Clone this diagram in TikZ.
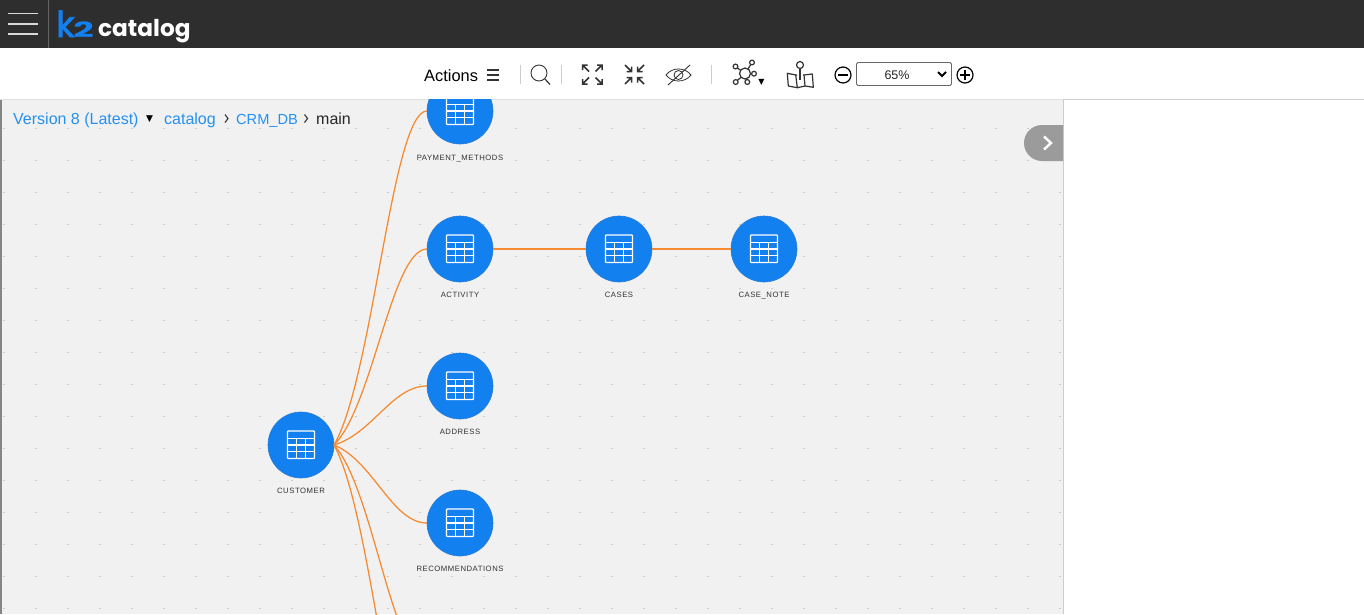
\documentclass[tikz,border=0pt]{standalone}
\usepackage{fontspec}
\setmainfont{Liberation Sans}
\newfontfamily\logofont{Poppins}
\newfontfamily\logokfont[FakeBold=1.6]{Poppins}
\newfontfamily\symfont{DejaVu Sans}
\newfontfamily\labelfont[LetterSpace=7]{Liberation Sans}
\definecolor{hdr}{HTML}{2E2E2E}
\definecolor{canvasbg}{HTML}{F1F1F1}
\definecolor{griddot}{HTML}{CCCCCC}
\definecolor{nodeblue}{HTML}{1380F0}
\definecolor{nodeedge}{HTML}{2B7CD3}
\definecolor{edgeorange}{HTML}{F58A30}
\definecolor{linkblue}{HTML}{2590F0}
\definecolor{tabgrey}{HTML}{9B9B9B}
\definecolor{sepgrey}{HTML}{CCCCCC}
\definecolor{icondark}{HTML}{333333}
\tikzset{
  x=1pt,y=-1pt,
  tablenode/.style={circle,fill=nodeblue,draw=nodeedge,line width=0.6pt,minimum size=66pt,inner sep=0pt,outer sep=0pt},
  tablelabel/.style={font=\labelfont\fontsize{7.7}{8}\selectfont,text=black!80,inner sep=0pt,anchor=base},
  relation/.style={draw=edgeorange,line width=1.25pt},
  crumb/.style={font=\fontsize{16}{18}\selectfont,inner sep=0pt,anchor=base west},
  sep/.style={draw=sepgrey,line width=1pt},
  ico/.style={draw=icondark,line width=1.5pt},
  pics/tableicon/.style={code={
    \draw[white,line width=1.3pt,rounded corners=0.7pt] (-13.5,-14) rectangle (13.5,13.5);
    \draw[white,line width=1.3pt] (-13.5,-6.3) -- (13.5,-6.3) (-13.5,0) -- (13.5,0) (-13.5,6.7) -- (13.5,6.7)
       (-4.5,-6.3) -- (-4.5,13.5) (4.5,-6.3) -- (4.5,13.5);
  }}
}
\begin{document}
\begin{tikzpicture}
\useasboundingbox (0,0) rectangle (1364,614);
\fill[white] (0,0) rectangle (1364,614);
% header
\fill[hdr] (0,0) rectangle (1364,48);
\draw[white!85!black,line width=1.7pt] (8,13.5) -- (38,13.5) (8,24) -- (38,24) (8,34) -- (38,34);
\draw[white!40!black,line width=0.8pt] (48.5,0) -- (48.5,48);
\node[font=\logokfont\fontsize{36}{36}\selectfont,text=nodeblue,inner sep=0pt,anchor=base west] (logok) at (56,37) {k};
\node[font=\logofont\bfseries\fontsize{21}{21}\selectfont,text=nodeblue,inner sep=0pt,anchor=base west,xscale=1.7] (logotwo) at (73,37) {2};
\node[font=\logofont\bfseries\fontsize{23.2}{25}\selectfont,text=white,inner sep=0pt,anchor=base west] (logot) at (98,36) {catalog};
% canvas
\fill[canvasbg] (0,99) rectangle (1063,614);
\fill[black!48] (0,99) rectangle (2,614);
\draw[sepgrey!60,line width=0.8pt] (0,99) -- (1063,99);
\draw[sepgrey,line width=1pt] (1063.5,99) -- (1364,99) (1063.5,99) -- (1063.5,614);
\begin{scope}
\clip (2,99.5) rectangle (1063,614);
\foreach \i in {0,...,33}{\foreach \j in {4,...,19}{
  \fill[griddot] ({3+32*\i},{32*\j-0.5}) rectangle ++(2,1);
}}
\node[tablenode] (payment) at (460,111) {};
\node[tablenode] (activity) at (460,249) {};
\node[tablenode] (cases) at (619,249) {};
\node[tablenode] (casenote) at (764,249) {};
\node[tablenode] (address) at (460,386) {};
\node[tablenode] (recs) at (460,523) {};
\node[tablenode] (customer) at (301,445) {};
\coordinate (below1) at (427,660);
\coordinate (below2) at (427,797);
\foreach \t/\d in {payment.west/-334,activity.west/-196,address.west/-59,recs.west/78,below1/215,below2/352}{
  \draw[relation] (customer.east) .. controls +(39,{\d*0.2}) and +(-35,0) .. (\t);
}
\draw[relation] (activity.east) -- (cases.west);
\draw[relation] (cases.east) -- (casenote.west);
\foreach \t in {payment,activity,cases,casenote,address,recs,customer}{
  \pic at (\t) {tableicon};
}
\node[tablelabel] (lpayment) at (460,160) {PAYMENT\_METHODS};
\node[tablelabel] (lactivity) at (460,297) {ACTIVITY};
\node[tablelabel] (lcases) at (619,297) {CASES};
\node[tablelabel] (lcasenote) at (764,297) {CASE\_NOTE};
\node[tablelabel] (laddress) at (460,434) {ADDRESS};
\node[tablelabel] (lrecs) at (460,571) {RECOMMENDATIONS};
\node[tablelabel] (lcustomer) at (301,493) {CUSTOMER};
\end{scope}
% breadcrumb
\node[crumb,text=linkblue] (ver) at (13,124) {Version 8 (Latest)};
\node[font=\symfont\fontsize{9}{9}\selectfont,inner sep=0pt,text=black] (verdown) at (149.5,119) {▼};
\node[crumb,text=linkblue] (cat) at (164,124) {catalog};
\node[crumb,text=linkblue,font=\fontsize{14.6}{18}\selectfont] (crm) at (236,124) {CRM\_DB};
\node[crumb,text=black!85] (mainl) at (316,124) {main};
\draw[icondark,line width=1.1pt] (225,114.5) -- (228,118.5) -- (225,122.5);
\draw[icondark,line width=1.1pt] (304.5,114.5) -- (307.5,118.5) -- (304.5,122.5);
% tab
\fill[tabgrey] (1063,125) -- (1042,125) arc[start angle=-90,end angle=-270,radius=18,y=-1pt] -- (1063,161) -- cycle;
\draw[white,line width=2.4pt] (1044,136.5) -- (1051,143) -- (1044,149.5);
% toolbar
\node[crumb,text=black,font=\fontsize{16.4}{18}\selectfont] (actions) at (424,81) {Actions};
\draw[icondark,line width=1.1pt] (487,70) -- (499,70) (487,75) -- (499,75) (487,80) -- (499,80);
\draw[sep] (520.5,65) -- (520.5,84) (561.5,65) -- (561.5,84) (711.5,65) -- (711.5,84);
% search
\draw[icondark,line width=0.9pt] (539,73) circle[radius=8];
\draw[icondark,line width=1.2pt] (545,79) -- (550,84.5);
% expand
\begin{scope}[ico]
\draw (582.5,70) -- (582.5,65) -- (587.5,65) (582.5,65) -- (589,71.5);
\draw (602,70) -- (602,65) -- (597,65) (602,65) -- (595.5,71.5);
\draw (582.5,79) -- (582.5,84) -- (587.5,84) (582.5,84) -- (589,77.5);
\draw (602,79) -- (602,84) -- (597,84) (602,84) -- (595.5,77.5);
% compress
\draw (625,65) -- (631.5,71.5) (631.5,66.5) -- (631.5,71.5) -- (626.5,71.5);
\draw (644,65) -- (637.5,71.5) (637.5,66.5) -- (637.5,71.5) -- (642.5,71.5);
\draw (625,84) -- (631.5,77.5) (631.5,82.5) -- (631.5,77.5) -- (626.5,77.5);
\draw (644,84) -- (637.5,77.5) (637.5,82.5) -- (637.5,77.5) -- (642.5,77.5);
\end{scope}
% eye slash
\draw[icondark,line width=0.8pt] (666,75) .. controls (672,67) and (685,67) .. (691,75) .. controls (685,83) and (672,83) .. (666,75);
\draw[icondark,line width=0.8pt] (678.5,75) circle[radius=4.5];
\draw[icondark,line width=0.9pt] (668,85) -- (690,65);
% network
\begin{scope}[icondark,line width=1.2pt]
\draw (745,73.5) circle[radius=5.5];
\draw (735.5,66.5) circle[radius=2.4];
\draw (752,62.5) circle[radius=2.4];
\draw (754,73.7) circle[radius=2.4];
\draw (747.3,82) circle[radius=2.4];
\draw (735.7,82) circle[radius=2.4];
\draw (737.5,68) -- (740.5,70.3) (750.7,64.5) -- (748,69) (751.6,73.7) -- (750.5,73.7) (746.7,79.6) -- (746.2,79) (737.5,80.3) -- (741,77.3);
\end{scope}
\node[font=\symfont\fontsize{8}{8}\selectfont,inner sep=0pt,text=black] (netdown) at (761.5,82) {▼};
% map
\begin{scope}[icondark,line width=1.2pt,line join=round]
\draw (787.3,73.3) -- (795.7,75) -- (797.3,87.7) -- (788.3,86) -- cycle;
\draw (804,75) -- (812.3,74) -- (813.3,87.3) -- (805,86) -- cycle;
\draw (797.3,87.7) -- (805,86) (795.7,75) -- (797,75) (804,75) -- (803,75);
\draw (800,65) circle[radius=3.5];
\draw (800,68.5) -- (800,80);
\end{scope}
% zoom control
\draw[black,line width=1.2pt] (843,75) circle[radius=8];
\draw[black,line width=1.8pt] (838,75) -- (848,75);
\draw[draw=black!60,rounded corners=1.5pt,line width=0.9pt,fill=white] (856.5,62.5) rectangle (951.5,85.5);
\node[font=\fontsize{12.5}{14}\selectfont,text=black!85,inner sep=0pt,anchor=base] (zoomval) at (897,79.5) {65\%};
\draw[black,line width=1.8pt] (938,72) -- (942,76) -- (946,72);
\draw[black,line width=1.2pt] (965,75) circle[radius=8];
\draw[black,line width=1.8pt] (960,75) -- (970,75) (965,70) -- (965,80);
\end{tikzpicture}
\end{document}
